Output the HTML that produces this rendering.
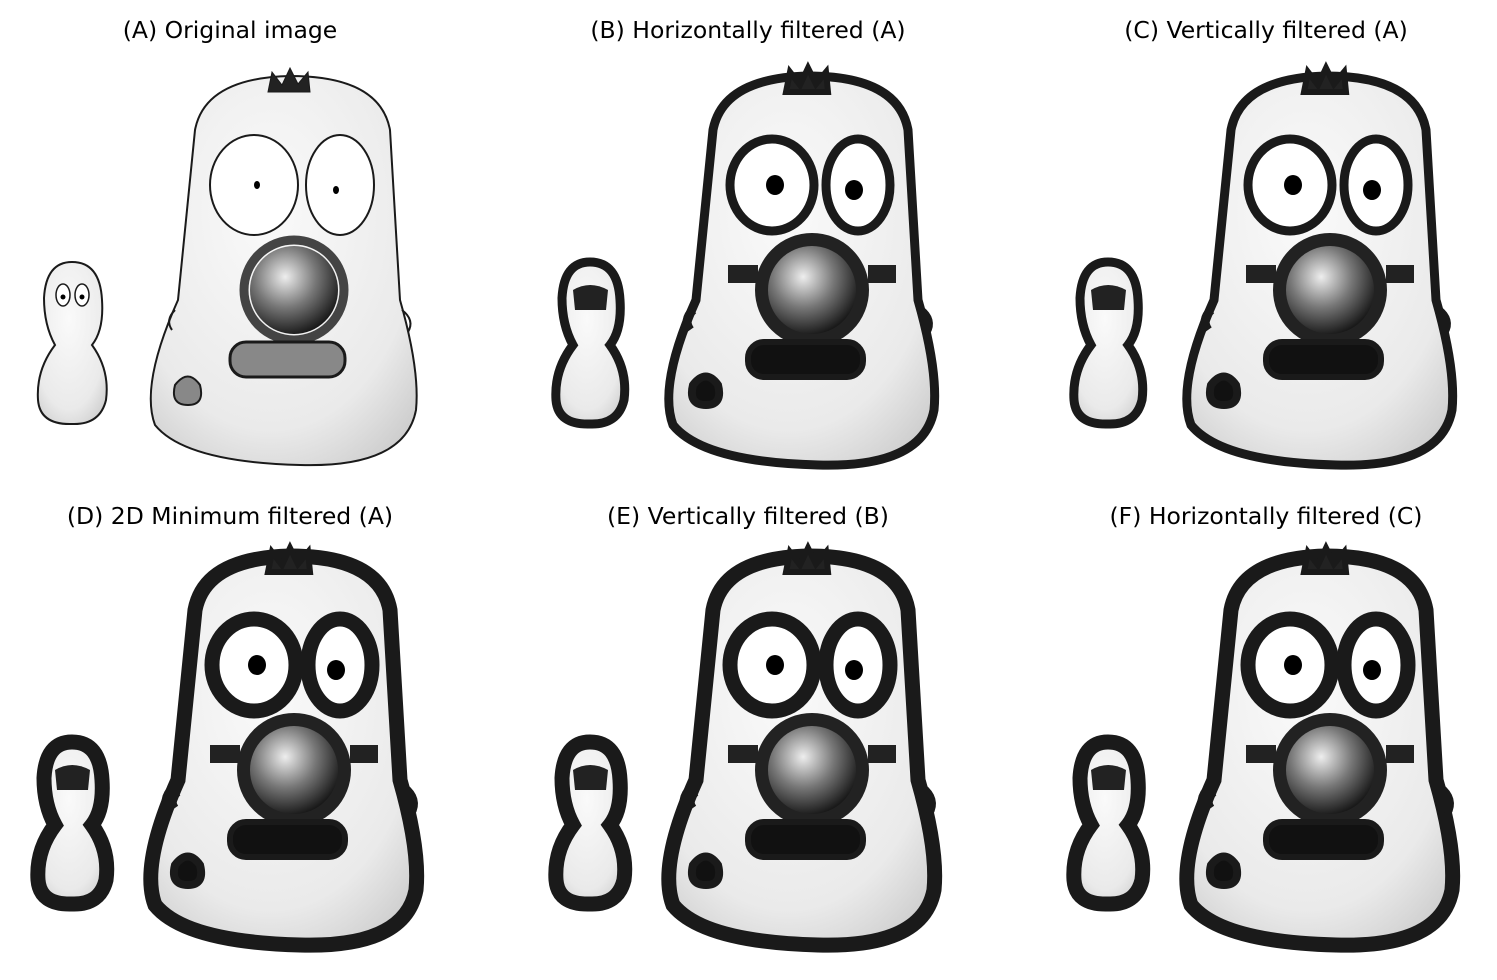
<!DOCTYPE html>
<html><head><meta charset="utf-8"><style>
body{margin:0;background:#fff;}
svg{display:block;}
text{font-family:"DejaVu Sans","Liberation Sans",sans-serif;font-size:23.5px;fill:#000;}
</style></head><body>
<svg id="fig" width="1497" height="980" viewBox="0 0 1497 980" xmlns="http://www.w3.org/2000/svg">
<defs>
<radialGradient id="noseG" cx="0.4" cy="0.35" r="0.7"><stop offset="0" stop-color="#eee"/><stop offset="0.5" stop-color="#777"/><stop offset="1" stop-color="#111"/></radialGradient>
<radialGradient id="bodyG" cx="0.45" cy="0.35" r="0.8"><stop offset="0" stop-color="#fafafa"/><stop offset="0.7" stop-color="#eaeaea"/><stop offset="1" stop-color="#c8c8c8"/></radialGradient>
</defs>
</svg>
<script>
const titles=["(A) Original image","(B) Horizontally filtered (A)","(C) Vertically filtered (A)","(D) 2D Minimum filtered (A)","(E) Vertically filtered (B)","(F) Horizontally filtered (C)"];
const titleX=[230,748,1266,230,748,1266];
const titleY=[38,38,38,524,524,524];
const offX=[0,518,1036,0,518,1036];
const offY=[0,0,0,480,480,480];
const strokeW=[2,9,9,15,15,15];
const svg=document.getElementById('fig');
const NS="http://www.w3.org/2000/svg";
function el(tag,attrs,parent){const e=document.createElementNS(NS,tag);for(const k in attrs)e.setAttribute(k,attrs[k]);parent.appendChild(e);return e;}
for(let i=0;i<6;i++){
  const t=el('text',{x:titleX[i],y:titleY[i],'text-anchor':'middle'},svg);
  t.textContent=titles[i];
  
  
  const g=el('g',{transform:`translate(${offX[i]},${offY[i]})`},svg);
  
  
  const w=strokeW[i], thin=i===0;
  const sc='#1a1a1a';
  el('path',{d:'M72 262 Q100 262 102 300 Q104 330 92 345 Q110 370 106 400 Q100 425 72 424 Q40 425 38 400 Q36 370 55 345 Q44 325 44 298 Q46 262 72 262 Z',fill:'url(#bodyG)',stroke:sc,'stroke-width':w},g);
  if(thin){
    el('ellipse',{cx:63,cy:295,rx:7,ry:11,fill:'#fff',stroke:sc,'stroke-width':1.5},g);
    el('ellipse',{cx:82,cy:295,rx:7,ry:11,fill:'#fff',stroke:sc,'stroke-width':1.5},g);
    el('circle',{cx:63,cy:297,r:2.5,fill:'#000'},g);el('circle',{cx:82,cy:297,r:2.5,fill:'#000'},g);
  }else{
    el('path',{d:'M55 290 Q72 280 90 290 L88 310 L57 310 Z',fill:'#222'},g);
  }
  el('path',{d:'M195 130 Q205 78 290 76 Q380 76 390 130 L400 300 Q420 370 416 410 Q405 468 300 465 Q185 462 155 425 Q140 385 178 300 Z',fill:'url(#bodyG)',stroke:sc,'stroke-width':w},g);
  el('path',{d:'M268 92 L272 72 L282 85 L290 68 L298 84 L308 72 L310 92 Z',fill:'#222',stroke:sc,'stroke-width':thin?1:6},g);
  el('ellipse',{cx:254,cy:185,rx:thin?44:42,ry:thin?50:46,fill:'#fff',stroke:sc,'stroke-width':w},g);
  el('ellipse',{cx:340,cy:185,rx:thin?34:32,ry:thin?50:46,fill:'#fff',stroke:sc,'stroke-width':w},g);
  el('ellipse',{cx:257,cy:185,rx:thin?3:9,ry:thin?4:10,fill:'#000'},g);
  el('ellipse',{cx:336,cy:190,rx:thin?3:9,ry:thin?4:10,fill:'#000'},g);
  el('circle',{cx:294,cy:290,r:50,fill:'none',stroke:thin?'#444':'#222','stroke-width':thin?9:14},g);
  el('circle',{cx:294,cy:290,r:44,fill:'url(#noseG)'},g);
  if(!thin){
    el('rect',{x:210,y:265,width:30,height:18,fill:'#222'},g);
    el('rect',{x:350,y:265,width:28,height:18,fill:'#222'},g);
  }
  el('rect',{x:230,y:342,width:115,height:35,rx:16,fill:thin?'#888':'#111',stroke:sc,'stroke-width':thin?3:6},g);
  el('path',{d:'M175 385 Q188 368 200 385 Q205 405 188 405 Q170 405 175 385 Z',fill:thin?'#888':'#111',stroke:sc,'stroke-width':thin?2:8},g);
  el('path',{d:'M175 310 Q165 320 172 330',fill:'none',stroke:sc,'stroke-width':w},g);
  el('path',{d:'M402 310 Q415 320 408 332',fill:'none',stroke:sc,'stroke-width':w},g);
}
</script>
</body></html>
